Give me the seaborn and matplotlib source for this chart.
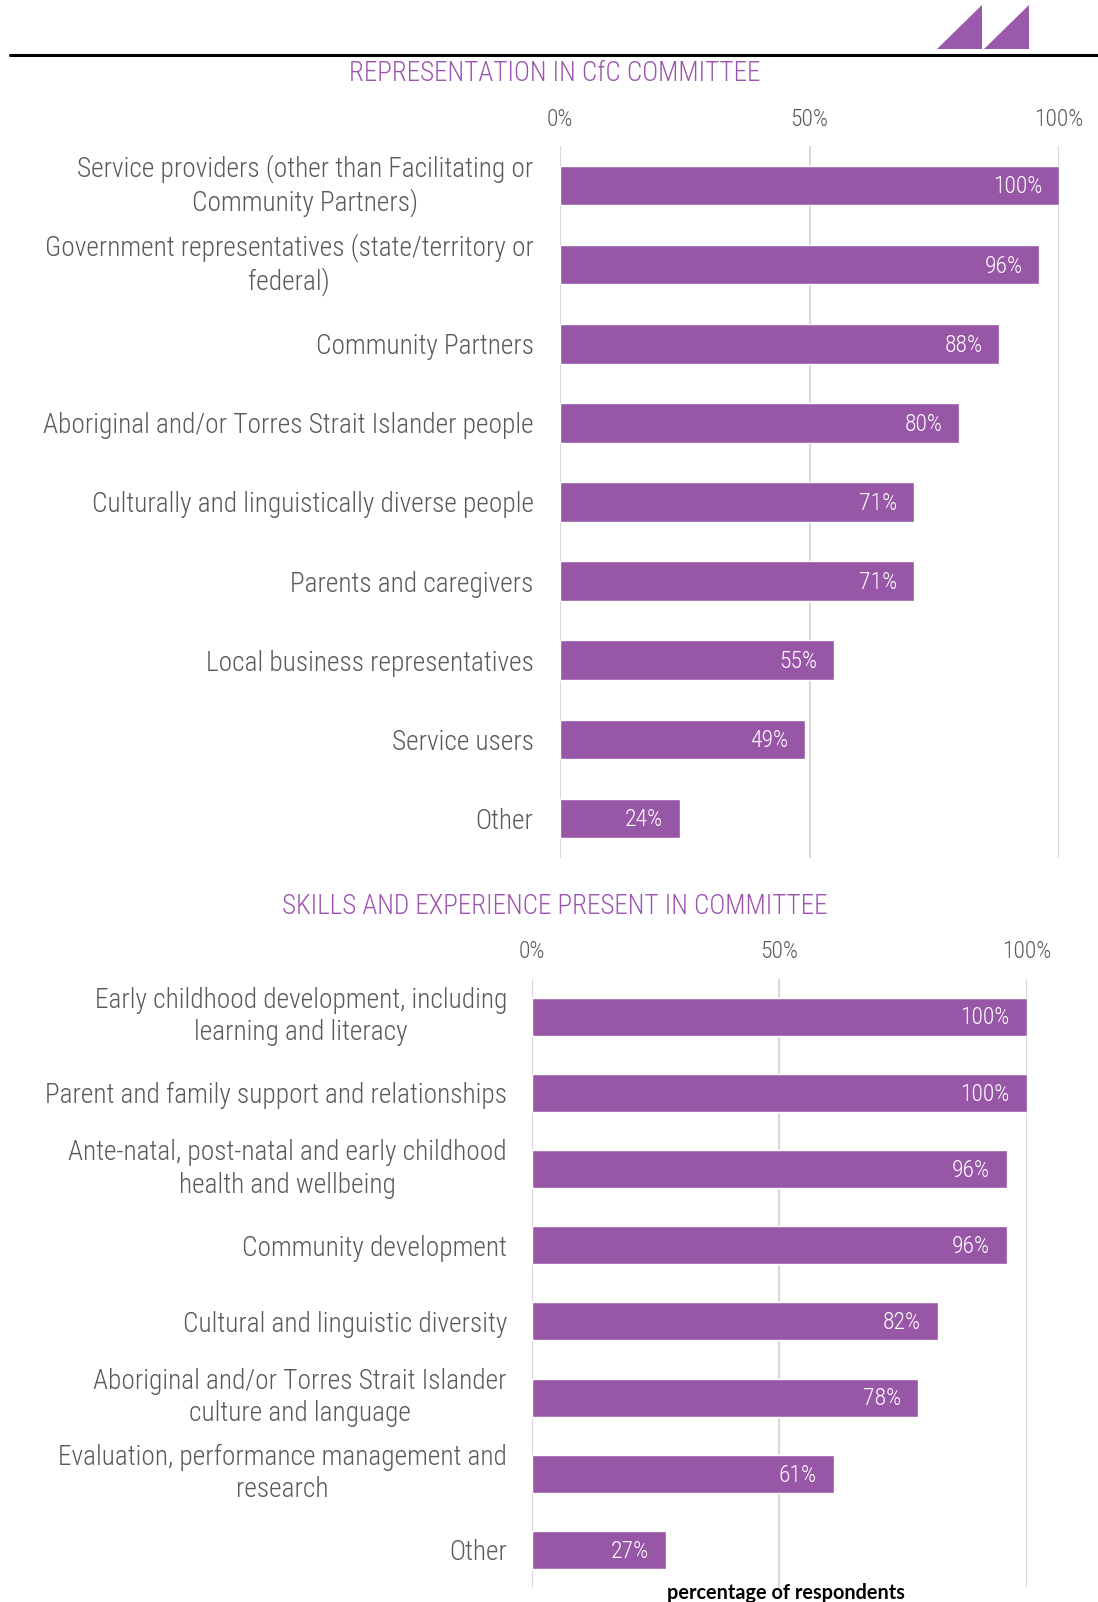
import matplotlib
matplotlib.use("Agg")
import matplotlib.pyplot as plt
from matplotlib import font_manager
from matplotlib.patches import Polygon
from matplotlib.lines import Line2D
import seaborn as sns
import pandas as pd

# Representation in CfC committee
rep_categories = [
    "Service providers (other than Facilitating or\nCommunity Partners)",
    "Government representatives (state/territory or\nfederal)",
    "Community Partners",
    "Aboriginal and/or Torres Strait Islander people",
    "Culturally and linguistically diverse people",
    "Parents and caregivers",
    "Local business representatives",
    "Service users",
    "Other",
]
rep_values = [100, 96, 88, 80, 71, 71, 55, 49, 24]

# Skills and experience present in committee
skill_categories = [
    "Early childhood development, including\nlearning and literacy",
    "Parent and family support and relationships",
    "Ante-natal, post-natal and early childhood\nhealth and wellbeing",
    "Community development",
    "Cultural and linguistic diversity",
    "Aboriginal and/or Torres Strait Islander\nculture and language",
    "Evaluation, performance management and\nresearch",
    "Other",
]
skill_values = [100, 100, 96, 96, 82, 78, 61, 27]

x_ticks = [0, 50, 100]
x_tick_labels = ["0%", "50%", "100%"]

PURPLE = "#9857A6"
TITLE_PURPLE = "#9B55AE"
GREY_TEXT = "#595959"
GRID = "#D9D9D9"

sns.set_theme(style="white")

# Prefer a narrow sans face when one is installed
names = {f.name for f in font_manager.fontManager.ttflist}
narrow = None
for cand in ["Liberation Sans Narrow", "Roboto Condensed", "Arial Narrow",
             "Open Sans Condensed", "Noto Sans Condensed"]:
    if cand in names:
        narrow = cand
        break
stretch = "normal"
if narrow is None:
    for f in font_manager.fontManager.ttflist:
        if ("Narrow" in f.name or "Condensed" in f.name) and f.style == "normal":
            narrow = f.name
            break
if narrow is None:
    for f in font_manager.fontManager.ttflist:
        if str(f.stretch).endswith("condensed"):
            narrow = f.name
            stretch = "condensed"
            break
if narrow is None:
    narrow = "Roboto"

FONT = [narrow, "Roboto", "DejaVu Sans"]
plt.rcParams["font.family"] = FONT
plt.rcParams["font.stretch"] = stretch
plt.rcParams["font.weight"] = "light"
is_narrow = narrow != "Roboto"

LABEL_SIZE = 19.7 if is_narrow else 17
VAL_SIZE = 17 if is_narrow else 15
TITLE_SIZE = 19.5 if is_narrow else 17

fig = plt.figure(figsize=(10.98, 16.02), dpi=100)


def draw_panel(rect, cats, vals, title, title_y, label_pad):
    ax = fig.add_axes(rect)
    df = pd.DataFrame({"cat": cats, "val": vals})
    sns.barplot(data=df, x="val", y="cat", orient="h", color=PURPLE,
                saturation=1, width=0.5, ax=ax)
    ax.set_xlim(0, 100)
    ax.set_ylim(len(cats) - 0.5, -0.5)
    ax.set_xlabel("")
    ax.set_ylabel("")
    for s in ax.spines.values():
        s.set_visible(False)
    ax.xaxis.tick_top()
    ax.set_xticks(x_ticks)
    ax.set_xticklabels(x_tick_labels)
    ax.tick_params(axis="x", length=0, pad=11, labelsize=VAL_SIZE, labelcolor=GREY_TEXT)
    ax.tick_params(axis="y", length=0, pad=label_pad, labelsize=LABEL_SIZE,
                   labelcolor=GREY_TEXT)
    for lab in ax.get_xticklabels() + ax.get_yticklabels():
        lab.set_fontweight("light")
    for lab in ax.get_yticklabels():
        lab.set_multialignment("center")
        lab.set_linespacing(1.25)
        if "\n" in lab.get_text():
            lab.set_verticalalignment("center")
    for x in x_ticks:
        ax.axvline(x, color=GRID, lw=1.5, zorder=0)
    ax.set_axisbelow(True)
    for i, v in enumerate(vals):
        ax.annotate(f"{v}%", xy=(v, i), xytext=(-12, -1), textcoords="offset points",
                    ha="right", va="center", color="white", fontsize=VAL_SIZE,
                    fontweight="light")
    fig.text(0.5055, title_y, title, ha="center", va="center",
             color=TITLE_PURPLE, fontsize=TITLE_SIZE, fontweight="light")
    return ax


draw_panel([0.510, 0.4644, 0.4545, 0.4445], rep_categories, rep_values,
           "REPRESENTATION IN CfC COMMITTEE", 1 - 73.5 / 1602, 19)
draw_panel([0.4845, 0.0087, 0.4504, 0.3805], skill_categories, skill_values,
           "SKILLS AND EXPERIENCE PRESENT IN COMMITTEE", 1 - 906 / 1602, 18)

fig.text(786 / 1098, 1 - 1593 / 1602, "percentage of respondents", ha="center",
         va="center", fontsize=14.3, fontweight="bold", color="black",
         family=["Lato", "DejaVu Sans"], stretch="normal")

# Header rule and corner triangles
W, H = 1098, 1602
fig.add_artist(Line2D([10 / W, 1.0], [1 - 55 / H, 1 - 55 / H], color="black", lw=2.2,
                      transform=fig.transFigure))
for x0, x1 in [(937, 982), (984, 1029)]:
    tri = Polygon([(x0 / W, 1 - 49 / H), (x1 / W, 1 - 49 / H), (x1 / W, 1 - 5 / H)],
                  closed=True, facecolor="#9B59AB", edgecolor="none",
                  transform=fig.transFigure)
    fig.add_artist(tri)

fig.savefig("out.png", dpi=100)
